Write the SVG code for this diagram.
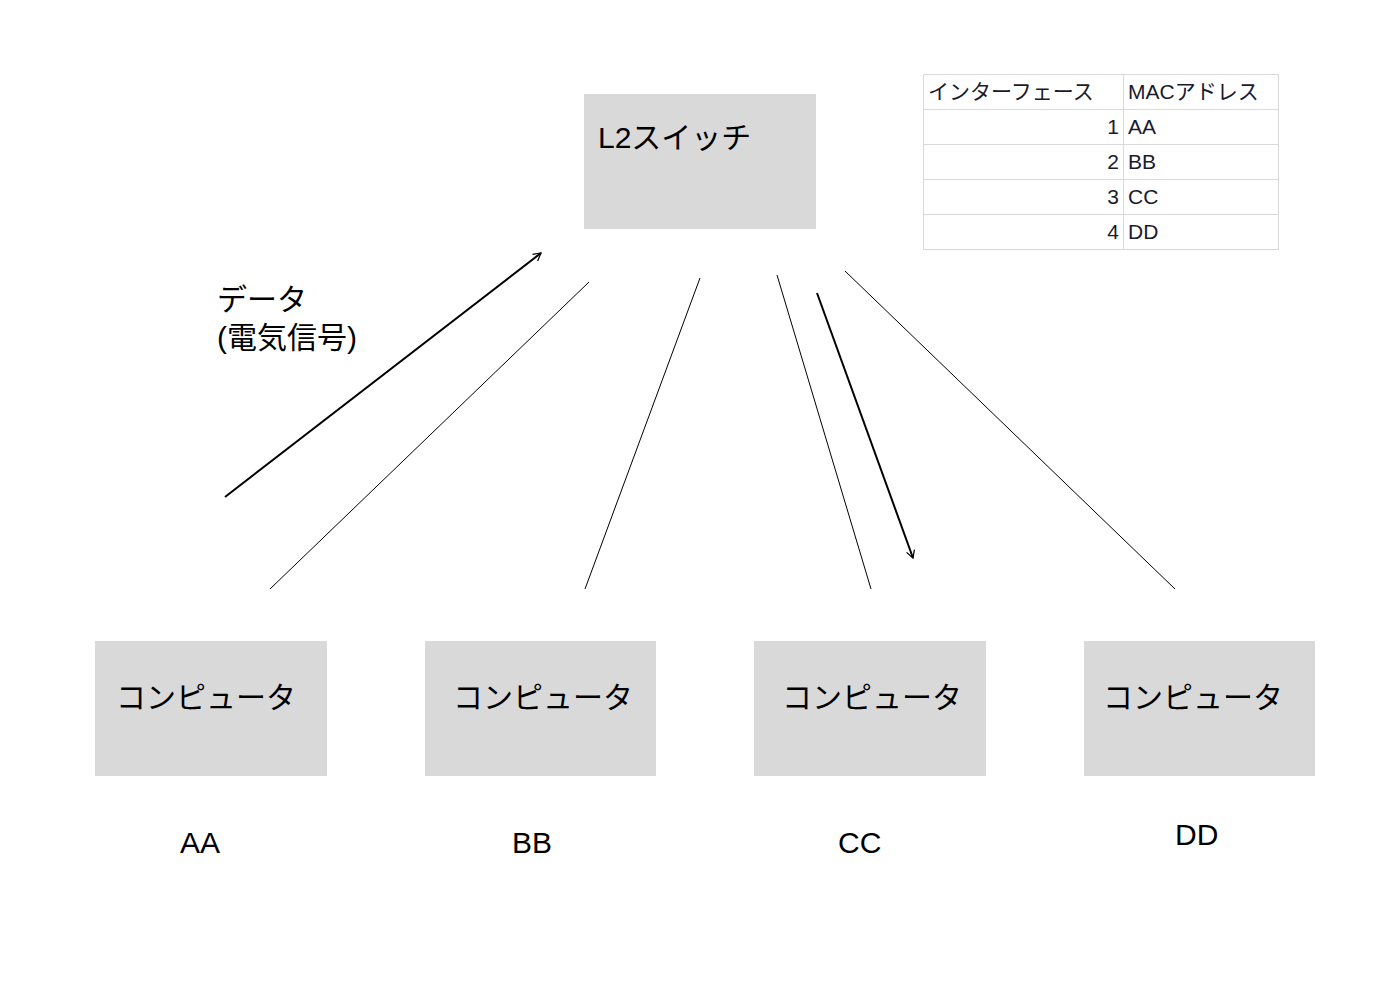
<svg xmlns="http://www.w3.org/2000/svg" width="1400" height="995" viewBox="0 0 1400 995">
<style>
.box{fill:#d9d9d9;}
.t{font-family:"Liberation Sans","Noto Sans CJK JP",sans-serif;font-size:30px;fill:#000;}
.tb{font-family:"Liberation Sans","Noto Sans CJK JP",sans-serif;font-size:21px;fill:#1a1a2e;}
.grid{stroke:#d9d9d9;stroke-width:1;fill:none;}
.ln{stroke:#000;stroke-width:1;fill:none;}
.ar{stroke:#000;stroke-width:2;fill:none;marker-end:url(#open);}
</style>
<defs>
<marker id="open" viewBox="0 0 12 12" refX="10" refY="6" markerWidth="10" markerHeight="10" orient="auto" markerUnits="userSpaceOnUse">
<path d="M1,1 L10,6 L1,11" fill="none" stroke="#000" stroke-width="1.5"/>
</marker>
</defs>
<rect width="1400" height="995" fill="#fff"/>
<g id="table">
<rect class="grid" x="923.5" y="74.5" width="355" height="175"/>
<line class="grid" x1="1123.5" y1="74.5" x2="1123.5" y2="249.5"/>
<line class="grid" x1="923.5" y1="109.5" x2="1278.5" y2="109.5"/>
<line class="grid" x1="923.5" y1="144.5" x2="1278.5" y2="144.5"/>
<line class="grid" x1="923.5" y1="179.5" x2="1278.5" y2="179.5"/>
<line class="grid" x1="923.5" y1="214.5" x2="1278.5" y2="214.5"/>
<text class="tb" x="928" y="99">インターフェース</text>
<text class="tb" x="1128" y="99">MACアドレス</text>
<text class="tb" x="1119" y="134" text-anchor="end">1</text>
<text class="tb" x="1128" y="134">AA</text>
<text class="tb" x="1119" y="169" text-anchor="end">2</text>
<text class="tb" x="1128" y="169">BB</text>
<text class="tb" x="1119" y="204" text-anchor="end">3</text>
<text class="tb" x="1128" y="204">CC</text>
<text class="tb" x="1119" y="239" text-anchor="end">4</text>
<text class="tb" x="1128" y="239">DD</text>
</g>
<g id="switch">
<rect class="box" x="584" y="94" width="232" height="135"/>
<text class="t" x="598" y="148">L2スイッチ</text>
</g>
<g id="pc1">
<rect class="box" x="95" y="641" width="232" height="135"/>
<text class="t" x="116" y="708">コンピュータ</text>
</g>
<g id="pc2">
<rect class="box" x="425" y="641" width="231" height="135"/>
<text class="t" x="453" y="708">コンピュータ</text>
</g>
<g id="pc3">
<rect class="box" x="754" y="641" width="232" height="135"/>
<text class="t" x="782" y="708">コンピュータ</text>
</g>
<g id="pc4">
<rect class="box" x="1084" y="641" width="231" height="135"/>
<text class="t" x="1103" y="708">コンピュータ</text>
</g>
<g id="labels">
<text class="t" x="180" y="853">AA</text>
<text class="t" x="512" y="853">BB</text>
<text class="t" x="838" y="853">CC</text>
<text class="t" x="1175" y="845">DD</text>
<text class="t" x="217" y="310">データ</text>
<text class="t" x="217" y="348">(電気信号)</text>
</g>
<g id="connectors">
<line class="ln" x1="270" y1="589" x2="589" y2="282"/>
<line class="ln" x1="585" y1="589" x2="700" y2="278"/>
<line class="ln" x1="871" y1="589" x2="777" y2="275"/>
<line class="ln" x1="1175" y1="589" x2="845" y2="271"/>
<line class="ar" x1="225" y1="497" x2="541" y2="253"/>
<line class="ar" x1="817" y1="293" x2="913" y2="558"/>
</g>
</svg>
